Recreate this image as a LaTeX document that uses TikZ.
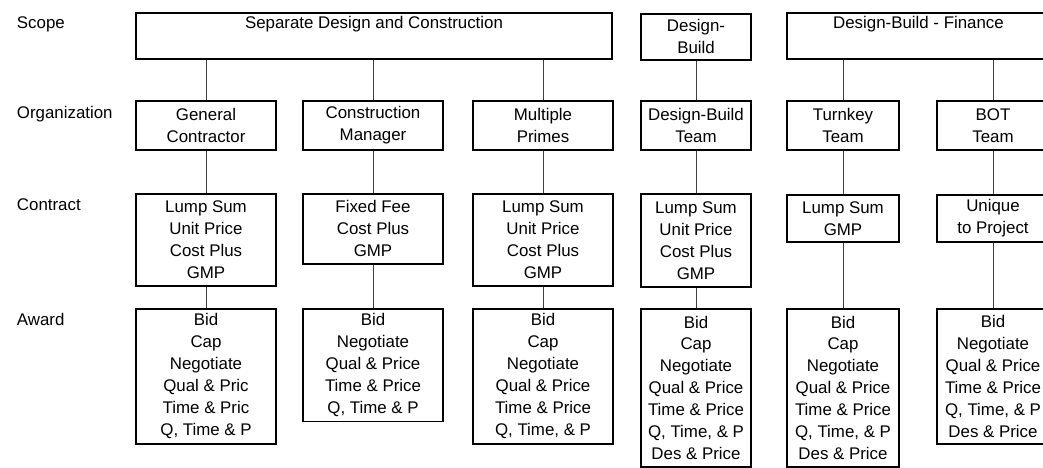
\documentclass[tikz,border=0pt]{standalone}
\usepackage{fontspec}
\setmainfont{Liberation Sans}
\begin{document}
\begin{tikzpicture}[x=0.025cm, y=-0.025cm,
	box/.style={draw, line width=1.1pt, align=center, anchor=north, inner xsep=1pt,
		font=\fontsize{12}{15.6}\selectfont},
	toptext/.style={text height=0.325cm, text depth=0.675cm, inner ysep=0.075cm},
	org/.style={box, minimum height=1.225cm},
	rowlabel/.style={anchor=base west, font=\fontsize{12}{15.6}\selectfont},
	link/.style={line width=0.5pt, black!75}]
	\clip (0,0) rectangle (1043,467);
	
	\node[rowlabel] (lscope) at (12,28) {Scope};
	\node[rowlabel] (lorg) at (12,118) {Organization};
	\node[rowlabel] (lcontract) at (12,210) {Contract};
	\node[rowlabel] (laward) at (12,325) {Award};
	
	% scope
	\node[box, toptext, minimum width=11.9cm] (sdc) at (374,12) {Separate Design and Construction};
	\node[box, minimum width=2.75cm, minimum height=1.15cm] (db) at (696,13) {Design-\\Build};
	\node[box, toptext, minimum width=6.575cm] (dbf) at (918.5,12) {Design-Build - Finance};
	
	% organization
	\node[org, minimum width=3.5cm] (gc) at (206,100) {General\\Contractor};
	\node[org, minimum width=3.5cm] (cm) at (373,100) {Construction\\Manager};
	\node[org, minimum width=3.5cm] (mp) at (543,100) {Multiple\\Primes};
	\node[org, minimum width=2.75cm] (dbt) at (696,100) {Design-Build\\Team};
	\node[org, minimum width=2.8cm] (tk) at (843,100) {Turnkey\\Team};
	\node[org, minimum width=2.8cm] (bot) at (993,100) {BOT\\Team};
	
	% contract
	\node[box, minimum width=3.5cm, minimum height=2.3cm] (gcc) at (206,193)
		{Lump Sum\\Unit Price\\Cost Plus\\GMP};
	\node[box, minimum width=3.5cm, minimum height=1.75cm] (cmc) at (373,193)
		{Fixed Fee\\Cost Plus\\GMP};
	\node[box, minimum width=3.5cm, minimum height=2.3cm] (mpc) at (543,193)
		{Lump Sum\\Unit Price\\Cost Plus\\GMP};
	\node[box, minimum width=2.75cm, minimum height=2.325cm] (dbc) at (696,193)
		{Lump Sum\\Unit Price\\Cost Plus\\GMP};
	\node[box, minimum width=2.8cm, minimum height=1.175cm] (tkc) at (843,194)
		{Lump Sum\\GMP};
	\node[box, minimum width=2.8cm, minimum height=1.175cm] (botc) at (993,194)
		{Unique\\to Project};
	
	% award
	\node[box, minimum width=3.5cm, minimum height=3.375cm] (gca) at (206,308)
		{Bid\\Cap\\Negotiate\\Qual \& Pric\\Time \& Pric\\Q, Time \& P};
	\node[box, minimum width=3.5cm, minimum height=2.8cm] (cma) at (373,308)
		{Bid\\Negotiate\\Qual \& Price\\Time \& Price\\Q, Time \& P};
	\node[box, minimum width=3.5cm, minimum height=3.375cm] (mpa) at (543,308)
		{Bid\\Cap\\Negotiate\\Qual \& Price\\Time \& Price\\Q, Time, \& P};
	\node[box, minimum width=2.75cm, minimum height=3.95cm] (dba) at (696,308)
		{Bid\\Cap\\Negotiate\\Qual \& Price\\Time \& Price\\Q, Time, \& P\\Des \& Price};
	\node[box, minimum width=2.8cm, minimum height=3.95cm] (tka) at (843,308)
		{Bid\\Cap\\Negotiate\\Qual \& Price\\Time \& Price\\Q, Time, \& P\\Des \& Price};
	\node[box, minimum width=2.8cm, minimum height=3.375cm] (bota) at (993,308)
		{Bid\\Negotiate\\Qual \& Price\\Time \& Price\\Q, Time, \& P\\Des \& Price};
	
	% scope to organization
	\draw[link] (gc.north) -- (gc.north |- sdc.south);
	\draw[link] (cm.north) -- (cm.north |- sdc.south);
	\draw[link] (mp.north) -- (mp.north |- sdc.south);
	\draw[link] (dbt.north) -- (db.south);
	\draw[link] (tk.north) -- (tk.north |- dbf.south);
	\draw[link] (bot.north) -- (bot.north |- dbf.south);
	
	% organization to contract to award
	\draw[link] (gc.south) -- (gcc.north);
	\draw[link] (cm.south) -- (cmc.north);
	\draw[link] (mp.south) -- (mpc.north);
	\draw[link] (dbt.south) -- (dbc.north);
	\draw[link] (tk.south) -- (tkc.north);
	\draw[link] (bot.south) -- (botc.north);
	\draw[link] (gcc.south) -- (gca.north);
	\draw[link] (cmc.south) -- (cma.north);
	\draw[link] (mpc.south) -- (mpa.north);
	\draw[link] (dbc.south) -- (dba.north);
	\draw[link] (tkc.south) -- (tka.north);
	\draw[link] (botc.south) -- (bota.north);
\end{tikzpicture}
\end{document}
